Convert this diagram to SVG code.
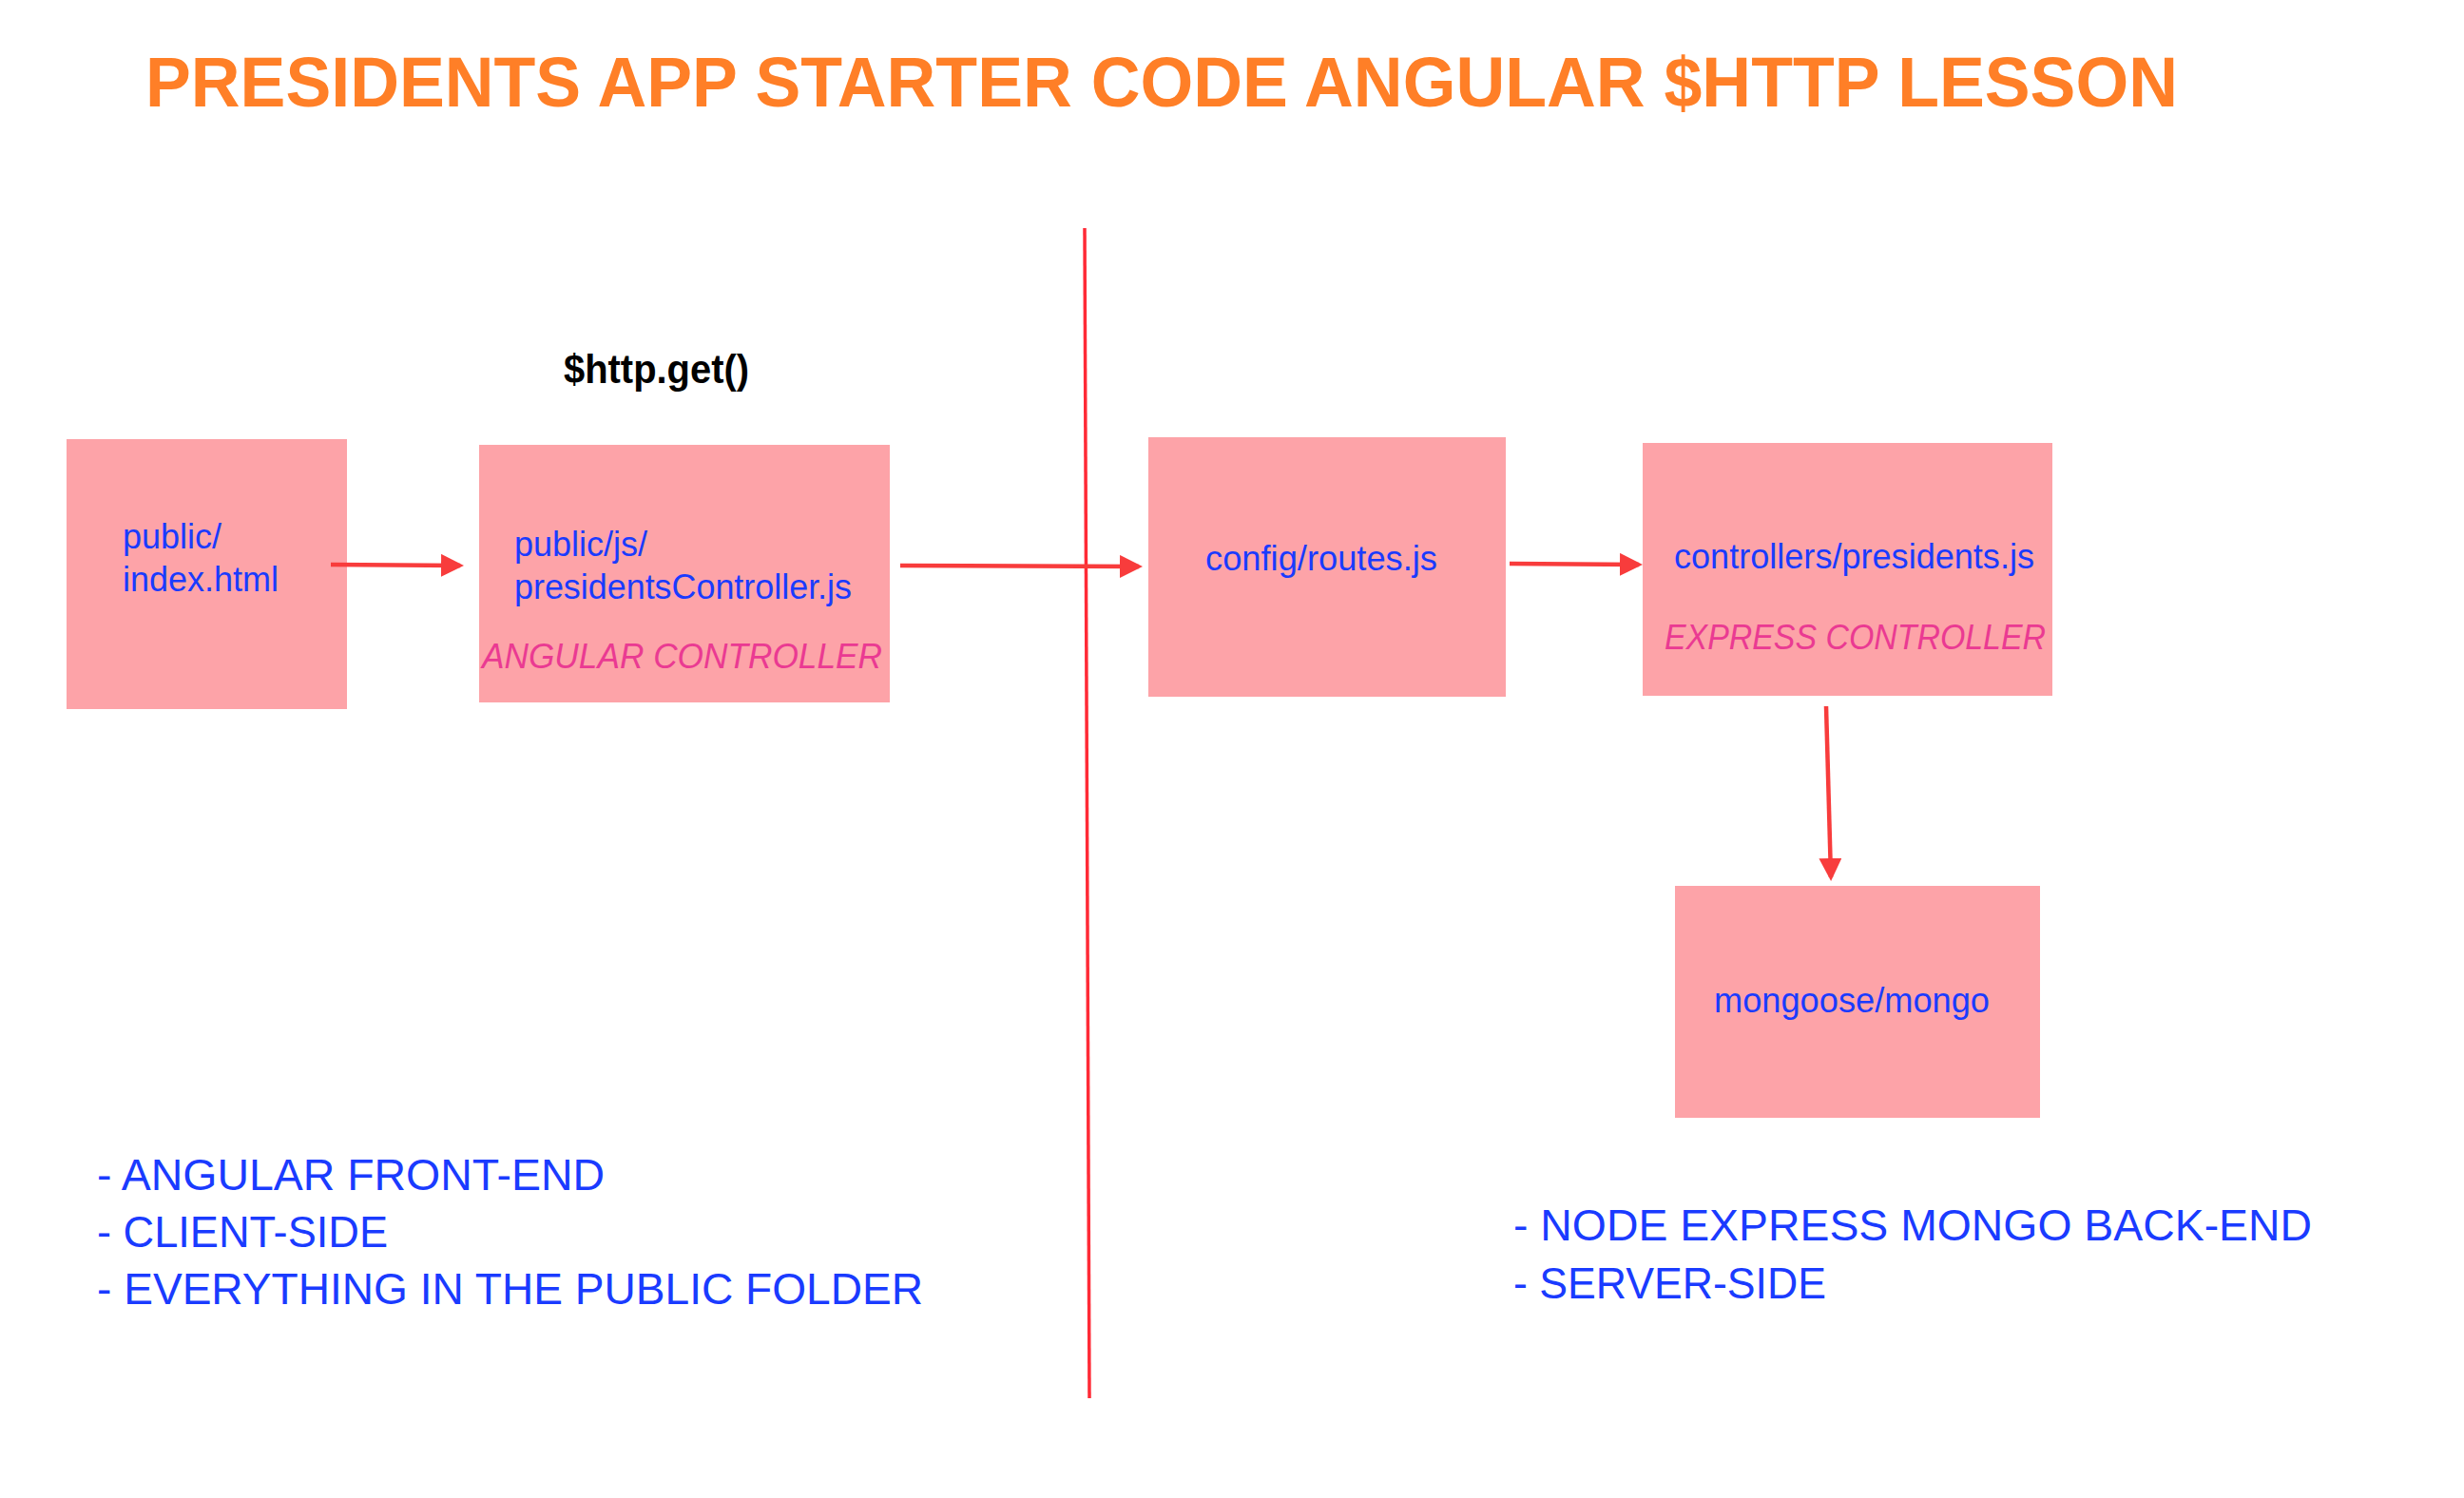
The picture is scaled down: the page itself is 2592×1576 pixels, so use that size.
<svg xmlns="http://www.w3.org/2000/svg" width="2592" height="1576" viewBox="0 0 2592 1576">
  <style>
    .box { fill: #FDA3A8; }
    .lbl { font-family: "Liberation Sans", Arial, Helvetica, sans-serif; font-size: 36px; fill: #1A3BFF; }
    .role { font-family: "Liberation Sans", Arial, Helvetica, sans-serif; font-size: 36px; font-style: italic; fill: #EA3A92; }
    .note { font-family: "Liberation Sans", Arial, Helvetica, sans-serif; font-size: 46px; fill: #1A3BFF; }
    .title { font-family: "Liberation Sans", Arial, Helvetica, sans-serif; font-size: 74px; font-weight: bold; fill: #FF7F27; }
    .call { font-family: "Liberation Sans", Arial, Helvetica, sans-serif; font-size: 42px; font-weight: bold; fill: #000000; }
    .conn { stroke: #F83C3C; stroke-width: 4.5; fill: none; }
    .divider { stroke: #FF2A36; stroke-width: 3.5; fill: none; }
  </style>
  <defs>
    <marker id="arrow" markerUnits="userSpaceOnUse" markerWidth="24" markerHeight="24" refX="20" refY="12" orient="auto">
      <path d="M0,0 L24,12 L0,24 z" fill="#F83C3C"/>
    </marker>
  </defs>
  <rect width="2592" height="1576" fill="#FFFFFF"/>

  <text class="title" x="153" y="112" textLength="2138" lengthAdjust="spacingAndGlyphs">PRESIDENTS APP STARTER CODE ANGULAR $HTTP LESSON</text>

  <g id="divider">
    <line class="divider" x1="1141" y1="240" x2="1146" y2="1471"/>
  </g>

  <g id="node-index">
    <rect class="box" x="70" y="462" width="295" height="284"/>
    <text class="lbl" x="129" y="577">public/</text>
    <text class="lbl" x="129" y="622">index.html</text>
  </g>

  <g id="node-presidentsController">
    <rect class="box" x="504" y="468" width="432" height="271"/>
    <text class="lbl" x="541" y="585">public/js/</text>
    <text class="lbl" x="541" y="630" textLength="355" lengthAdjust="spacingAndGlyphs">presidentsController.js</text>
    <text class="role" x="507" y="703" textLength="421" lengthAdjust="spacingAndGlyphs">ANGULAR CONTROLLER</text>
  </g>

  <g id="node-routes">
    <rect class="box" x="1208" y="460" width="376" height="273"/>
    <text class="lbl" x="1268" y="600" textLength="244" lengthAdjust="spacingAndGlyphs">config/routes.js</text>
  </g>

  <g id="node-presidents">
    <rect class="box" x="1728" y="466" width="431" height="266"/>
    <text class="lbl" x="1761" y="598" textLength="379" lengthAdjust="spacingAndGlyphs">controllers/presidents.js</text>
    <text class="role" x="1751" y="683" textLength="401" lengthAdjust="spacingAndGlyphs">EXPRESS CONTROLLER</text>
  </g>

  <g id="node-mongo">
    <rect class="box" x="1762" y="932" width="384" height="244"/>
    <text class="lbl" x="1803" y="1065" textLength="290" lengthAdjust="spacingAndGlyphs">mongoose/mongo</text>
  </g>

  <g id="connectors">
    <line class="conn" x1="348" y1="594" x2="484" y2="595" marker-end="url(#arrow)"/>
    <line class="conn" x1="947" y1="595" x2="1198" y2="596" marker-end="url(#arrow)"/>
    <line class="conn" x1="1588" y1="593" x2="1724" y2="594" marker-end="url(#arrow)"/>
    <line class="conn" x1="1921" y1="743" x2="1926" y2="923" marker-end="url(#arrow)"/>
  </g>

  <g id="label-http">
    <text class="call" x="593" y="403" textLength="195" lengthAdjust="spacingAndGlyphs">$http.get()</text>
  </g>

  <g id="notes-client">
    <text class="note" x="102" y="1252" textLength="534" lengthAdjust="spacingAndGlyphs">- ANGULAR FRONT-END</text>
    <text class="note" x="102" y="1312" textLength="306" lengthAdjust="spacingAndGlyphs">- CLIENT-SIDE</text>
    <text class="note" x="102" y="1372" textLength="869" lengthAdjust="spacingAndGlyphs">- EVERYTHING IN THE PUBLIC FOLDER</text>
  </g>

  <g id="notes-server">
    <text class="note" x="1592" y="1305" textLength="840" lengthAdjust="spacingAndGlyphs">- NODE EXPRESS MONGO BACK-END</text>
    <text class="note" x="1592" y="1366" textLength="329" lengthAdjust="spacingAndGlyphs">- SERVER-SIDE</text>
  </g>
</svg>
